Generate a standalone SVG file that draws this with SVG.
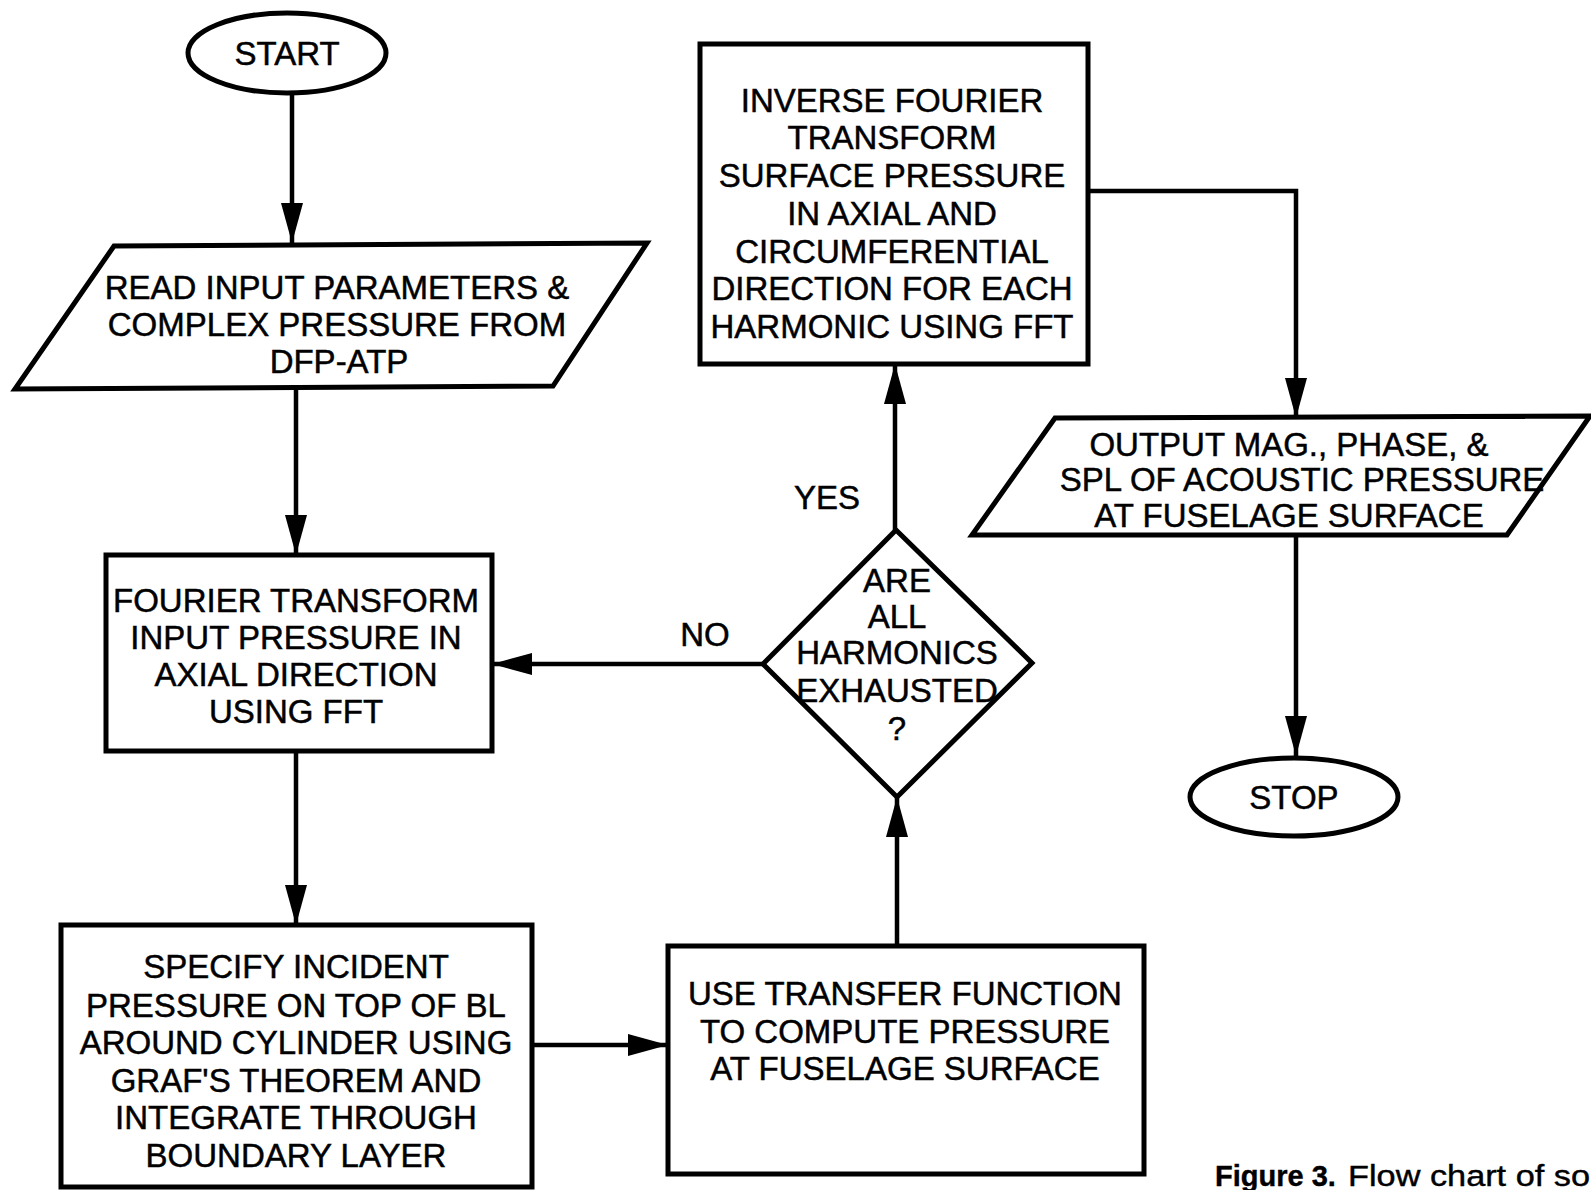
<svg xmlns="http://www.w3.org/2000/svg" width="1591" height="1190" viewBox="0 0 1591 1190">
<style>
.shape{fill:none;stroke:#000;stroke-width:5;stroke-linejoin:miter}
.conn{fill:none;stroke:#000;stroke-width:4.5}
.t{font-family:"Liberation Sans",Arial,sans-serif;font-size:33px;fill:#000;stroke:#000;stroke-width:0.5;text-anchor:middle}
.cap{font-family:"Liberation Sans",Arial,sans-serif;font-size:29px;fill:#000;stroke:#000;stroke-width:0.4}
</style>
<defs>
<marker id="ah" markerUnits="userSpaceOnUse" markerWidth="42" markerHeight="22" refX="40" refY="11" orient="auto">
<path d="M0,0 L40,11 L0,22 z" fill="#000"/>
</marker>
</defs>
<rect width="1591" height="1190" fill="#fff"/>
<g id="connectors">
<path class="conn" d="M292,93 L292,243" marker-end="url(#ah)"/>
<path class="conn" d="M296,388 L296,555" marker-end="url(#ah)"/>
<path class="conn" d="M296,751 L296,925" marker-end="url(#ah)"/>
<path class="conn" d="M532,1045 L668,1045" marker-end="url(#ah)"/>
<path class="conn" d="M897,946 L897,797" marker-end="url(#ah)"/>
<path class="conn" d="M763,664 L492,664" marker-end="url(#ah)"/>
<path class="conn" d="M895,530 L895,364" marker-end="url(#ah)"/>
<path class="conn" d="M1088,191 L1296,191 L1296,418" marker-end="url(#ah)"/>
<path class="conn" d="M1296,535 L1296,756" marker-end="url(#ah)"/>
<text class="t" x="827" y="509">YES</text>
<text class="t" x="705" y="646">NO</text>
</g>
<g id="start">
<ellipse class="shape" cx="287" cy="53" rx="99" ry="40"/>
<text class="t" x="287" y="65">START</text>
</g>
<g id="read-input">
<path class="shape" d="M114,246 L647,243 L553,386 L15,389 Z"/>
<text class="t" x="337" y="299">READ INPUT PARAMETERS &amp;</text>
<text class="t" x="337" y="336">COMPLEX PRESSURE FROM</text>
<text class="t" x="339" y="373">DFP-ATP</text>
</g>
<g id="fourier">
<rect class="shape" x="106" y="555" width="386" height="196"/>
<text class="t" x="296" y="612">FOURIER TRANSFORM</text>
<text class="t" x="296" y="649">INPUT PRESSURE IN</text>
<text class="t" x="296" y="686">AXIAL DIRECTION</text>
<text class="t" x="296" y="723">USING FFT</text>
</g>
<g id="specify">
<rect class="shape" x="61" y="925" width="471" height="262"/>
<text class="t" x="296" y="978">SPECIFY INCIDENT</text>
<text class="t" x="296" y="1017">PRESSURE ON TOP OF BL</text>
<text class="t" x="296" y="1054">AROUND CYLINDER USING</text>
<text class="t" x="296" y="1092">GRAF'S THEOREM AND</text>
<text class="t" x="296" y="1129">INTEGRATE THROUGH</text>
<text class="t" x="296" y="1167">BOUNDARY LAYER</text>
</g>
<g id="transfer">
<rect class="shape" x="668" y="946" width="476" height="228"/>
<text class="t" x="905" y="1005">USE TRANSFER FUNCTION</text>
<text class="t" x="905" y="1043">TO COMPUTE PRESSURE</text>
<text class="t" x="905" y="1080">AT FUSELAGE SURFACE</text>
</g>
<g id="decision">
<path class="shape" d="M896,530 L1032,663 L897,797 L763,664 Z"/>
<text class="t" x="897" y="592">ARE</text>
<text class="t" x="897" y="628">ALL</text>
<text class="t" x="897" y="664">HARMONICS</text>
<text class="t" x="897" y="702">EXHAUSTED</text>
<text class="t" x="897" y="740">?</text>
</g>
<g id="inverse">
<rect class="shape" x="700" y="44" width="388" height="320"/>
<text class="t" x="892" y="112">INVERSE FOURIER</text>
<text class="t" x="892" y="149">TRANSFORM</text>
<text class="t" x="892" y="187">SURFACE PRESSURE</text>
<text class="t" x="892" y="225">IN AXIAL AND</text>
<text class="t" x="892" y="263">CIRCUMFERENTIAL</text>
<text class="t" x="892" y="300">DIRECTION FOR EACH</text>
<text class="t" x="892" y="338">HARMONIC USING FFT</text>
</g>
<g id="output">
<path class="shape" d="M1055,418 L1590,416 L1507,535 L972,535 Z"/>
<text class="t" x="1289" y="456">OUTPUT MAG., PHASE, &amp;</text>
<text class="t" x="1302" y="491">SPL OF ACOUSTIC PRESSURE</text>
<text class="t" x="1289" y="527">AT FUSELAGE SURFACE</text>
</g>
<g id="stop">
<ellipse class="shape" cx="1294" cy="797" rx="104" ry="39"/>
<text class="t" x="1294" y="809">STOP</text>
</g>
<g id="caption">
<text class="cap" x="1215" y="1186" font-weight="bold">Figure 3.</text>
<text class="cap" x="1348" y="1186" textLength="242" lengthAdjust="spacingAndGlyphs">Flow chart of so</text>
</g>
</svg>
